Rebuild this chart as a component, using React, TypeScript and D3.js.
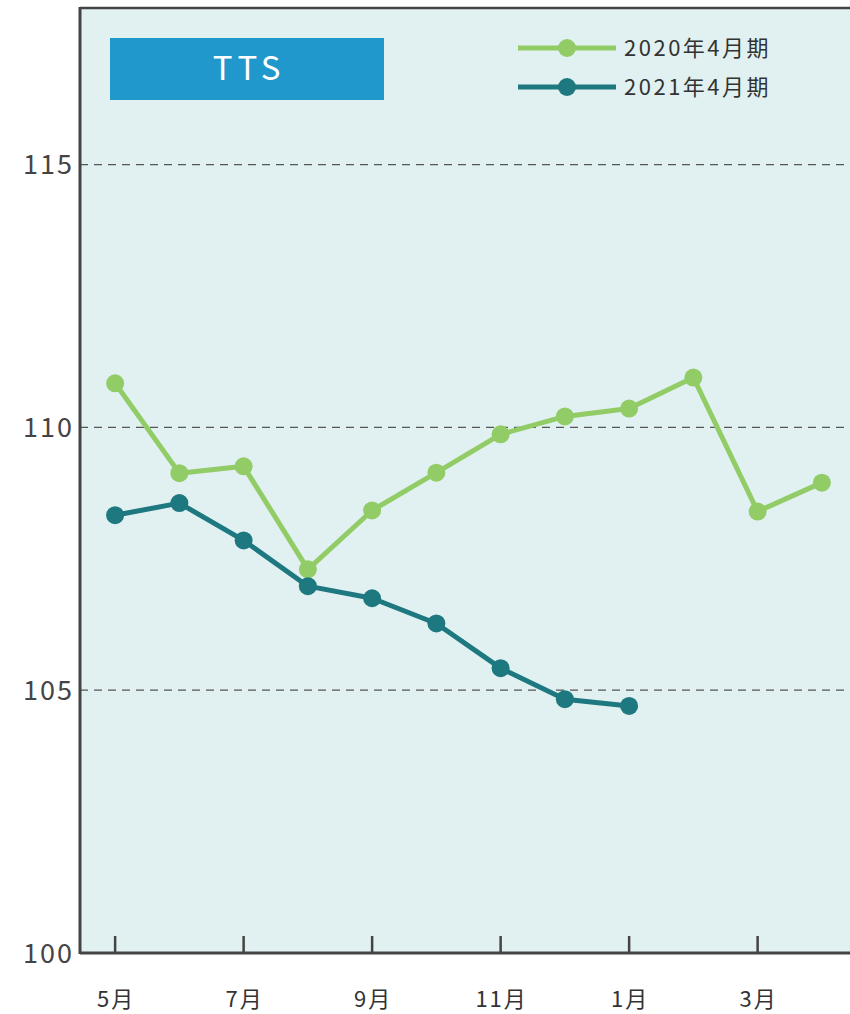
import React from 'react';
import * as d3 from 'd3';

const months = ['5月', '6月', '7月', '8月', '9月', '10月', '11月', '12月', '1月', '2月', '3月', '4月'];
const tickMonths = ['5月', '7月', '9月', '11月', '1月', '3月'];
const fy2020 = [110.84, 109.13, 109.26, 107.3, 108.42, 109.14, 109.87, 110.21, 110.36, 110.95, 108.4, 108.95];
const fy2021 = [108.33, 108.56, 107.85, 106.98, 106.75, 106.27, 105.42, 104.83, 104.7];
const yTicks = [100, 105, 110, 115];
const seriesNames = ['2020年4月期', '2021年4月期'];
const seriesColors = ['#92cc66', '#1e7880'];

const W = 850;
const H = 1014;
const left = 80;
const top = 8;
const bottom = 953;
const font = '"Noto Sans CJK JP", "Noto Sans", sans-serif';

export default function App() {
  const x = d3.scalePoint<string>().domain(months).range([83, 854]).padding(0.5);
  const y = d3.scaleLinear().domain([100, 118]).range([bottom, top - 1]);

  const line = d3.line<number>()
    .x((_, i) => x(months[i]) as number)
    .y(d => y(d));

  const series = [fy2020, fy2021];

  return (
    <svg width={W} height={H} style={{ position: 'absolute', left: 0, top: 0 }}>
      <rect x={left} y={top} width={W - left} height={bottom - top} fill="#e1f1f2" />
      {yTicks.filter(t => t > 100).map(t => (
        <line key={t} x1={left} x2={W} y1={y(t)} y2={y(t)}
          stroke="#555" strokeWidth={1.3} strokeDasharray="8,6" />
      ))}
      {yTicks.map(t => (
        <text key={t} x={left - 6} y={y(t)} dy="0.36em" textAnchor="end"
          fontFamily={font} fontSize={27} letterSpacing={2} fill="#444">{t}</text>
      ))}
      {tickMonths.map(m => (
        <g key={m}>
          <line x1={x(m)} x2={x(m)} y1={bottom} y2={bottom - 17} stroke="#444" strokeWidth={2.5} />
          <text x={(x(m) as number) + 1} y={1007} textAnchor="middle" fontFamily={font} fontSize={22}
            letterSpacing={2} fill="#333">{m}</text>
        </g>
      ))}
      <line x1={left} x2={W} y1={top} y2={top} stroke="#444" strokeWidth={2.5} />
      <line x1={left} x2={left} y1={top - 1} y2={bottom + 1} stroke="#444" strokeWidth={3} />
      <line x1={left} x2={W} y1={bottom} y2={bottom} stroke="#444" strokeWidth={3} />

      {series.map((s, k) => (
        <g key={k}>
          <path d={line(s) || ''} fill="none" stroke={seriesColors[k]} strokeWidth={5} strokeLinejoin="round" />
          {s.map((v, i) => (
            <circle key={i} cx={x(months[i])} cy={y(v)} r={9} fill={seriesColors[k]} />
          ))}
        </g>
      ))}

      <rect x={110} y={38} width={274} height={62} fill="#2098cb" />
      <text x={249} y={68} dy="0.36em" textAnchor="middle" fontFamily={font} fontSize={33}
        fill="#fff" letterSpacing={5}>TTS</text>

      {seriesNames.map((n, k) => (
        <g key={n} transform={`translate(0, ${48 + k * 39})`}>
          <line x1={518} x2={616} y1={0} y2={0} stroke={seriesColors[k]} strokeWidth={5} />
          <circle cx={567} cy={0} r={9} fill={seriesColors[k]} />
          <text x={624} y={0} dy="0.36em" fontFamily={font} fontSize={22} letterSpacing={2.5} fill="#333">{n}</text>
        </g>
      ))}
    </svg>
  );
}
